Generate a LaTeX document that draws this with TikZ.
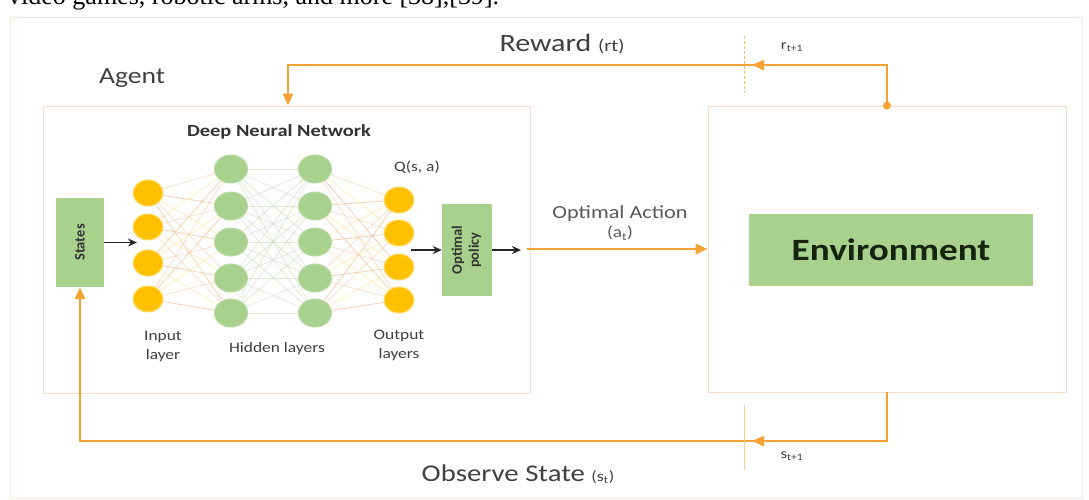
\documentclass[tikz,border=0pt]{standalone}
\usepackage{fontspec}
\setmainfont{Carlito}
\newfontfamily\capfont{Liberation Serif}
\usepackage{graphicx}
\usetikzlibrary{arrows.meta,backgrounds,shapes.geometric}
\definecolor{orng}{HTML}{F5A235}
\definecolor{gold}{HTML}{FFC000}
\definecolor{goldedge}{HTML}{FFD966}
\definecolor{lgreen}{HTML}{A9D18E}
\definecolor{gedge}{HTML}{B8D9A2}
\definecolor{txt}{HTML}{404040}
\definecolor{txtl}{HTML}{595959}
\definecolor{envtxt}{HTML}{15230F}
\definecolor{frm}{HTML}{F6E9E1}
\definecolor{boxedge}{HTML}{FADBC8}
\definecolor{eA}{HTML}{F8CBAD}
\definecolor{eB}{HTML}{FFE699}
\definecolor{eC}{HTML}{F4B183}
\definecolor{eD}{HTML}{C5E0B4}
\definecolor{eE}{HTML}{D6D6D6}
\newcommand{\hst}[1]{\scalebox{1.2}[1]{#1}}
\newcommand{\fs}[1]{\fontsize{#1}{#1}\selectfont}
\begin{document}
\begin{tikzpicture}[x=1pt,y=-1pt,
  lbl/.style={text=txt,inner sep=0pt},
  panel/.style={draw=boxedge,line width=0.8pt,inner sep=0pt},
  gbox/.style={fill=lgreen,draw=none,inner sep=0pt},
  ionode/.style={ellipse,fill=gold,draw=goldedge,line width=1pt,minimum width=30pt,minimum height=26pt,inner sep=0pt},
  hnode/.style={ellipse,fill=lgreen,draw=gedge,line width=1pt,minimum width=33pt,minimum height=28pt,inner sep=0pt},
  flow/.style={draw=orng,line width=2.6pt},
  otip/.style={-{Triangle[length=12pt,width=10pt]}},
  blk/.style={draw=black!85,line width=1.6pt,-{Stealth[length=9pt,width=8pt]}},
  tickline/.style={draw=orng!75,line width=0.8pt},
  netedge/.style={line width=0.8pt,draw opacity=0.6},
]
\useasboundingbox (0,0) rectangle (1089,499);
\begin{pgfonlayer}{background}
  \fill[white] (0,0) rectangle (1089,499);
\end{pgfonlayer}
\node[anchor=base west,inner sep=0pt,font=\capfont\fs{26}] (caption) at (8,4) {video games, robotic arms, and more [38],[39].};
\draw[frm,line width=1pt] (10,17) rectangle (1082,498);

% panels
\node[panel,minimum width=487pt,minimum height=287pt] (agent) at (286.5,249.5) {};
\node[panel,minimum width=358pt,minimum height=286pt] (envbox) at (887,249) {};
\node[gbox,minimum width=284pt,minimum height=72pt,font=\bfseries\fs{31},text=envtxt] (env) at (891,250) {\hst{Environment}};

% states and policy
\node[gbox,minimum width=48pt,minimum height=89pt,font=\bfseries\fs{14.5},text=black!80] (states) at (80,242.5) {\rotatebox{90}{States}};
\node[gbox,minimum width=50pt,minimum height=92pt,font=\bfseries\fontsize{14.5}{17}\selectfont,text=black!80] (policy) at (467,250) {\rotatebox{90}{\begin{tabular}{@{}c@{}}Optimal\\policy\end{tabular}}};

% network
\foreach \y [count=\i] in {193,227,263,299} \node[ionode] (i\i) at (148,\y) {};
\foreach \y [count=\i] in {169,206,242,278,313} {
  \node[hnode] (a\i) at (231,\y) {};
  \node[hnode] (b\i) at (315,\y) {};
}
\foreach \y [count=\i] in {200,233,267,300} \node[ionode] (o\i) at (399,\y) {};

\begin{pgfonlayer}{background}
\foreach \i in {1,...,4} \foreach \j in {1,...,5} {
  \pgfmathtruncatemacro\k{mod(\i+2*\j,3)}
  \ifcase\k\def\ec{eA}\or\def\ec{eB}\or\def\ec{eC}\fi
  \draw[netedge,\ec] (i\i) -- (a\j);
  \draw[netedge,\ec] (b\j) -- (o\i);
}
\foreach \i in {1,...,5} \foreach \j in {1,...,5} {
  \pgfmathtruncatemacro\k{mod(\i+\j,2)}
  \ifcase\k\def\ec{eD}\or\def\ec{eE}\fi
  \draw[netedge,\ec] (a\i) -- (b\j);
}
\end{pgfonlayer}

% black arrows
\coordinate (inTip) at (137,242.5);
\draw[blk] (states.east) -- (inTip);
\coordinate (outStart) at (411,250);
\draw[blk] (outStart) -- (policy.west);
\coordinate (polTip) at (521,250);
\draw[blk] (policy.east) -- (polTip);

% action
\coordinate (actStart) at (527,249);
\draw[flow,otip] (actStart) -- (envbox.west);

% reward loop
\coordinate (rwd) at (288,65);
\draw[flow,otip] (envbox.north) |- (rwd) -- (agent.north -| rwd);
\coordinate (rmidS) at (770,65);
\coordinate (rmid) at (752,65);
\draw[flow,otip] (rmidS) -- (rmid);
\fill[orng] (envbox.north) circle (4pt);
\coordinate (d1) at (744,36);
\coordinate (d2) at (744,93);
\draw[tickline,dash pattern=on 3pt off 2pt] (d1) -- (d2);

% observe loop
\coordinate (obs) at (80,441);
\draw[flow,otip] (envbox.south) |- (obs) -- (states.south);
\coordinate (smidS) at (770,441);
\coordinate (smid) at (752,441);
\draw[flow,otip] (smidS) -- (smid);
\coordinate (d3) at (744,405);
\coordinate (d4) at (744,470);
\draw[tickline,draw=orng!55] (d3) -- (d4);

% labels
\node[lbl,font=\fs{23}] (agentlbl) at (132,78) {\hst{Agent}};
\node[lbl] (rewardlbl) at (562,44) {\hst{\fs{25}Reward \fs{17}(rt)}};
\node[lbl,font=\fs{14}] (rlbl) at (792,47) {\hst{r\textsubscript{t+1}}};
\node[lbl,font=\bfseries\fs{17},text=black!80] (dnn) at (279,132) {\hst{Deep Neural Network}};
\node[lbl,font=\fs{14.5}] (q) at (417,167) {\hst{Q(s, a)}};
\node[lbl,font=\fontsize{14.5}{19}\selectfont,align=center] (inl) at (163,347) {\hst{Input}\\\hst{layer}};
\node[lbl,font=\fs{14.5}] (hl) at (277,349) {\hst{Hidden layers}};
\node[lbl,font=\fontsize{14.5}{19}\selectfont,align=center] (outl) at (399,345) {\hst{Output}\\\hst{layers}};
\node[lbl,font=\fs{18.5},text=txtl] (oa) at (620,214) {\hst{Optimal Action}};
\node[lbl,font=\fs{16},text=txtl] (at) at (620,233) {\hst{(a\textsubscript{t})}};
\node[lbl] (obsl) at (518,474) {\hst{\fs{24}Observe State \fs{15}(s\textsubscript{t})}};
\node[lbl,font=\fs{14}] (slbl) at (792,456) {\hst{s\textsubscript{t+1}}};
\end{tikzpicture}
\end{document}
